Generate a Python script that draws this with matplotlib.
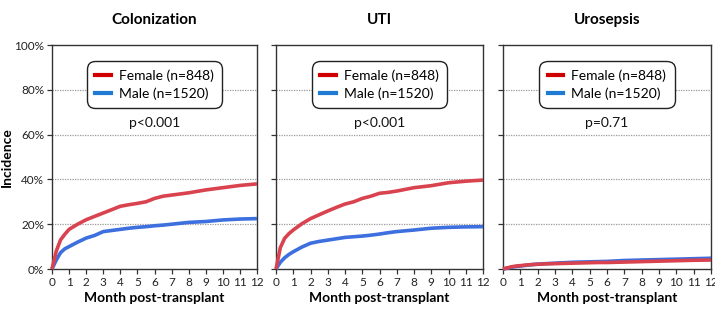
import matplotlib
matplotlib.use("Agg")
import matplotlib.pyplot as plt
from matplotlib.lines import Line2D

plt.rcParams['font.family'] = ['Lato', 'DejaVu Sans']

months = [0, 0.25, 0.5, 0.75, 1, 1.5, 2, 2.5, 3, 3.5, 4, 4.5, 5, 5.5, 6, 6.5, 7, 8, 9, 10, 11, 12]

titles = ["Colonization", "UTI", "Urosepsis"]
pvalues = ["p<0.001", "p<0.001", "p=0.71"]
series_labels = ["Female (n=848)", "Male (n=1520)"]

colon_female = [0, 8, 13, 15.5, 17.7, 20, 22, 23.5, 25, 26.5, 28, 28.7, 29.3, 30, 31.5, 32.5, 33, 34, 35.3, 36.3, 37.3, 38]
colon_male = [0, 4, 7.3, 9, 10, 12, 13.8, 15, 16.7, 17.2, 17.7, 18.2, 18.6, 18.9, 19.3, 19.6, 20, 20.8, 21.2, 21.9, 22.3, 22.5]
uti_female = [0, 9.5, 13.7, 15.8, 17.4, 20.2, 22.5, 24.2, 25.9, 27.5, 29, 30, 31.5, 32.5, 33.8, 34.2, 34.8, 36.3, 37.2, 38.5, 39.2, 39.7]
uti_male = [0, 3, 5, 6.5, 7.7, 9.8, 11.5, 12.3, 12.9, 13.5, 14.1, 14.4, 14.7, 15.1, 15.6, 16.2, 16.7, 17.4, 18.2, 18.6, 18.8, 18.9]
uro_female = [0, 0.5, 1, 1.3, 1.5, 1.9, 2.1, 2.3, 2.4, 2.5, 2.6, 2.7, 2.8, 2.9, 2.9, 3.0, 3.1, 3.3, 3.5, 3.7, 3.9, 4.0]
uro_male = [0, 0.4, 0.8, 1.1, 1.3, 1.8, 2.2, 2.4, 2.6, 2.8, 3.0, 3.1, 3.2, 3.3, 3.4, 3.6, 3.8, 4.0, 4.2, 4.4, 4.6, 4.8]

female_series = [colon_female, uti_female, uro_female]
male_series = [colon_male, uti_male, uro_male]

x_ticks = list(range(0, 13))
y_ticks = [0, 20, 40, 60, 80, 100]
y_ticklabels = ["0%", "20%", "40%", "60%", "80%", "100%"]

red_line = "#D9434F"
blue_line = "#3D6FDE"
red_leg = "#D00000"
blue_leg = "#1E7AD2"

W, H = 715, 310
fig = plt.figure(figsize=(W / 100, H / 100), dpi=100)

lefts = [52, 276, 503]
rights = [257, 483, 711]
bottom_px, top_px = 269, 45

for i in range(3):
    l, r = lefts[i], rights[i]
    ax = fig.add_axes([l / W, 1 - bottom_px / H, (r - l) / W, (bottom_px - top_px) / H])
    ax.plot(months, male_series[i], color=blue_line, lw=2.6, solid_capstyle='butt', zorder=3, clip_on=False)
    ax.plot(months, female_series[i], color=red_line, lw=2.6, solid_capstyle='butt', zorder=3, clip_on=False)
    ax.set_xlim(0, 12)
    ax.set_ylim(0, 100)
    ax.set_xticks(x_ticks)
    ax.set_xticklabels([str(t) for t in x_ticks], fontsize=8.5, color="#222222")
    ax.set_yticks(y_ticks)
    if i == 0:
        ax.set_yticklabels(y_ticklabels, fontsize=8.5, color="#222222")
        ax.set_ylabel("Incidence", fontsize=10, fontweight='bold')
        ax.yaxis.set_label_coords(-0.19, 0.5)
    else:
        ax.set_yticklabels([])
    for yv in [20, 40, 60, 80]:
        ax.axhline(yv, color="#9a9a9a", lw=0.9, ls=(0, (1, 1)), zorder=1)
    for s in ax.spines.values():
        s.set_color("#333333")
        s.set_linewidth(1.0)
    ax.tick_params(axis='both', direction='out', length=3.5, width=0.9, color="#333333", pad=2)
    ax.set_xlabel("Month post-transplant", fontsize=10, fontweight='bold', labelpad=3)
    ax.set_title(titles[i], fontsize=11, fontweight='bold', pad=15)
    ax.text(6, 65, pvalues[i], ha='center', va='center', fontsize=10, color="#111111")
    handles = [Line2D([0], [0], color=red_leg, lw=3.0),
               Line2D([0], [0], color=blue_leg, lw=3.0)]
    leg = ax.legend(handles, series_labels, loc='upper center', bbox_to_anchor=(0.5, 0.93),
                    fontsize=10, frameon=True, fancybox=True, handlelength=1.1,
                    handletextpad=0.6, borderpad=0.6, labelspacing=0.42, borderaxespad=0)
    fr = leg.get_frame()
    fr.set_edgecolor("#222222")
    fr.set_linewidth(1.0)
    fr.set_alpha(1)
    fr.set_boxstyle("round,pad=0,rounding_size=0.6")

fig.savefig("out.png", dpi=100)
